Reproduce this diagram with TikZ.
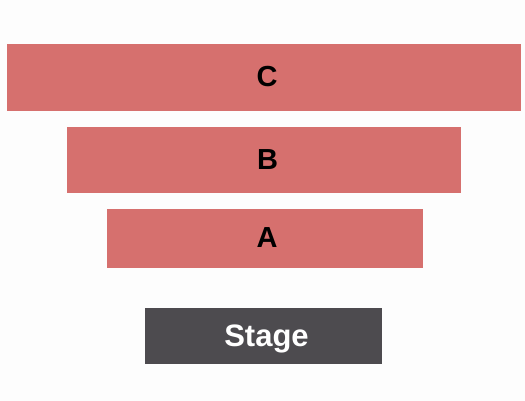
\documentclass[tikz,border=0pt]{standalone}
\usepackage{fontspec}
\setmainfont{Liberation Sans}
\definecolor{secred}{HTML}{D6706E}
\definecolor{stagegrey}{HTML}{4D4B4F}
\definecolor{bgc}{HTML}{FDFDFD}
\begin{document}
\begin{tikzpicture}[x=1pt,y=-1pt,
  section/.style={fill=secred,draw=none},
  stagebox/.style={fill=stagegrey,draw=none},
  lbl/.style={font=\bfseries\fontsize{29}{29}\selectfont,text=black,inner sep=0pt},
  stagelbl/.style={font=\bfseries\fontsize{31}{31}\selectfont,text=white,inner sep=0pt}]
\fill[bgc] (0,0) rectangle (525,401);
\useasboundingbox (0,0) rectangle (525,401);
\path[section] (7,44) rectangle (521,111);
\node[lbl] (c) at (267,76.5) {C};
\path[section] (67,127) rectangle (461,193);
\node[lbl] (b) at (267.5,159.7) {B};
\path[section] (107,209) rectangle (423,268);
\node[lbl] (a) at (267,238) {A};
\path[stagebox] (145,308) rectangle (382,364);
\node[stagelbl,anchor=base] (s) at (266.5,346) {Stage};
\end{tikzpicture}
\end{document}
